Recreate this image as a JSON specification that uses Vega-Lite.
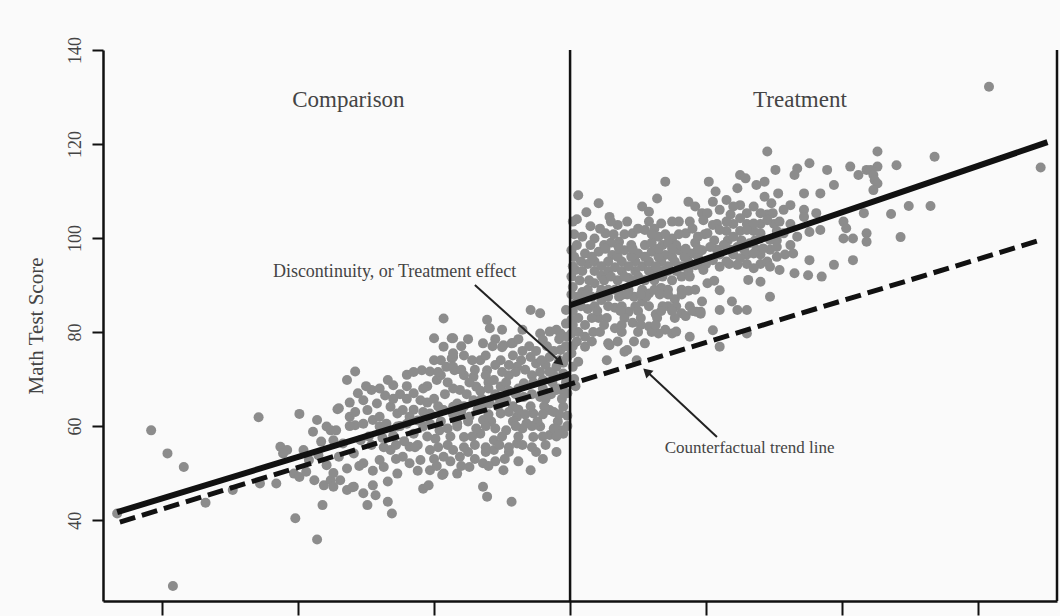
{
  "$schema": "https://vega.github.io/schema/vega-lite/v6.json",
  "width": 954,
  "height": 551,
  "autosize": "none",
  "padding": {"left": 103, "top": 50, "right": 3, "bottom": 15},
  "background": "#fafafa",
  "config": {
    "view": {"stroke": null},
    "font": "Liberation Serif"
  },
  "encoding": {
    "x": {
      "field": "x", "type": "quantitative",
      "scale": {"domain": [-3.434, 3.58], "nice": false, "zero": false},
      "axis": {"values": [-3, -2, -1, 0, 1, 2, 3], "labels": false, "title": null, "grid": false,
        "domainColor": "#111", "domainWidth": 2.5, "tickColor": "#111", "tickWidth": 2, "tickSize": 14}
    },
    "y": {
      "field": "y", "type": "quantitative",
      "scale": {"domain": [22.8, 140], "nice": false, "zero": false},
      "axis": {"values": [40, 60, 80, 100, 120, 140], "title": "Math Test Score", "grid": false,
        "domainColor": "#111", "domainWidth": 2.5, "tickColor": "#111", "tickWidth": 2, "tickSize": 11,
        "labelAngle": 270, "labelFont": "Liberation Serif", "labelFontSize": 18, "labelColor": "#444", "labelPadding": 8,
        "titleFont": "Liberation Serif", "titleFontSize": 21, "titleFontWeight": "normal", "titleColor": "#444", "titlePadding": 20}
    }
  },
  "layer": [
    {
      "data": {"values": [
        {"x": -3.08, "y": 59.1}, {"x": -2.96, "y": 54.2}, {"x": -2.84, "y": 51.3}, {"x": -3.33, "y": 41.4}, {"x": -2.92, "y": 26.0},
        {"x": -2.68, "y": 43.7}, {"x": -2.29, "y": 61.9}, {"x": -1.99, "y": 62.6}, {"x": -1.71, "y": 63.6}, {"x": -1.86, "y": 61.3},
        {"x": -1.89, "y": 58.8}, {"x": -1.79, "y": 59.9}, {"x": -1.76, "y": 59.1}, {"x": -2.13, "y": 55.6}, {"x": -2.08, "y": 54.9},
        {"x": -2.11, "y": 54.2}, {"x": -1.96, "y": 54.9}, {"x": -1.83, "y": 56.7}, {"x": -2.03, "y": 49.9}, {"x": -1.99, "y": 49.2},
        {"x": -1.94, "y": 50.3}, {"x": -1.88, "y": 48.5}, {"x": -1.81, "y": 47.4}, {"x": -1.76, "y": 48.5}, {"x": -1.74, "y": 47.1},
        {"x": -2.28, "y": 47.8}, {"x": -2.16, "y": 47.8}, {"x": -2.48, "y": 46.4}, {"x": -1.79, "y": 51.7}, {"x": -1.82, "y": 43.2},
        {"x": -2.02, "y": 40.4}, {"x": -1.86, "y": 35.9},
        {"x": -0.93, "y": 82.9}, {"x": -1.00, "y": 78.7}, {"x": -0.87, "y": 78.7}, {"x": -0.93, "y": 76.9}, {"x": -0.87, "y": 74.4},
        {"x": -0.91, "y": 72.6}, {"x": -0.85, "y": 71.9}, {"x": -1.00, "y": 74.0}, {"x": -1.09, "y": 71.9}, {"x": -1.03, "y": 71.6},
        {"x": -0.98, "y": 69.8}, {"x": -1.20, "y": 70.9}, {"x": -1.58, "y": 71.6}, {"x": -1.64, "y": 69.8}, {"x": -1.34, "y": 69.8},
        {"x": -1.30, "y": 68.7}, {"x": -1.46, "y": 67.7}, {"x": -1.56, "y": 67.0}, {"x": -1.52, "y": 65.5}, {"x": -1.15, "y": 67.0},
        {"x": -1.10, "y": 65.5}, {"x": -1.70, "y": 63.8}, {"x": -1.62, "y": 62.0}, {"x": -1.49, "y": 63.4}, {"x": -1.32, "y": 64.1},
        {"x": -1.27, "y": 62.7}, {"x": -1.23, "y": 63.4}, {"x": -1.03, "y": 62.7}, {"x": -0.93, "y": 63.4}, {"x": -0.86, "y": 64.1},
        {"x": -1.72, "y": 59.1}, {"x": -1.74, "y": 57.0}, {"x": -1.67, "y": 56.3}, {"x": -1.54, "y": 57.0}, {"x": -1.59, "y": 54.2},
        {"x": -1.52, "y": 52.1}, {"x": -1.40, "y": 52.8}, {"x": -1.32, "y": 54.9}, {"x": -1.23, "y": 53.5}, {"x": -1.18, "y": 55.6},
        {"x": -1.10, "y": 52.8}, {"x": -1.03, "y": 54.9}, {"x": -0.93, "y": 53.5}, {"x": -0.86, "y": 54.9}, {"x": -1.37, "y": 51.3},
        {"x": -1.27, "y": 49.9}, {"x": -1.18, "y": 52.1}, {"x": -1.03, "y": 50.6}, {"x": -0.93, "y": 49.9}, {"x": -0.83, "y": 49.9},
        {"x": -1.59, "y": 47.1}, {"x": -1.52, "y": 45.7}, {"x": -1.45, "y": 47.4}, {"x": -1.49, "y": 43.2}, {"x": -1.43, "y": 45.3},
        {"x": -1.34, "y": 48.2}, {"x": -1.08, "y": 46.7}, {"x": -1.04, "y": 47.4}, {"x": -1.34, "y": 43.9}, {"x": -1.31, "y": 41.4},
        {"x": -0.94, "y": 49.6}, {"x": -1.45, "y": 61.3}, {"x": -1.40, "y": 59.9}, {"x": -1.27, "y": 59.9}, {"x": -1.15, "y": 58.4},
        {"x": -1.08, "y": 59.9}, {"x": -0.96, "y": 59.1}, {"x": -0.83, "y": 59.9},
        {"x": -0.29, "y": 84.7}, {"x": -0.22, "y": 84.0}, {"x": -0.61, "y": 82.6}, {"x": -0.59, "y": 80.8}, {"x": -0.86, "y": 78.7},
        {"x": -0.64, "y": 77.6}, {"x": -0.49, "y": 77.2}, {"x": -0.43, "y": 77.6}, {"x": -0.22, "y": 79.7}, {"x": -0.15, "y": 80.1},
        {"x": -0.07, "y": 79.7}, {"x": -0.20, "y": 78.3}, {"x": -0.03, "y": 84.7}, {"x": -0.03, "y": 81.8}, {"x": -0.02, "y": 79.0},
        {"x": -0.86, "y": 74.7}, {"x": -0.86, "y": 72.6}, {"x": -0.66, "y": 74.0}, {"x": -0.51, "y": 74.0}, {"x": -0.61, "y": 71.9},
        {"x": -0.71, "y": 70.5}, {"x": -0.56, "y": 69.8}, {"x": -0.39, "y": 72.6}, {"x": -0.29, "y": 74.7}, {"x": -0.25, "y": 73.3},
        {"x": -0.15, "y": 74.7}, {"x": -0.07, "y": 76.2}, {"x": -0.02, "y": 74.7}, {"x": -0.10, "y": 72.6}, {"x": -0.81, "y": 67.7},
        {"x": -0.69, "y": 68.4}, {"x": -0.51, "y": 68.4}, {"x": -0.34, "y": 69.1}, {"x": -0.20, "y": 69.8}, {"x": -0.05, "y": 71.2},
        {"x": -0.83, "y": 60.6}, {"x": -0.74, "y": 62.0}, {"x": -0.64, "y": 61.3}, {"x": -0.51, "y": 62.7}, {"x": -0.39, "y": 62.0},
        {"x": -0.27, "y": 62.7}, {"x": -0.15, "y": 63.4}, {"x": -0.05, "y": 64.1}, {"x": -0.83, "y": 64.8}, {"x": -0.71, "y": 65.5},
        {"x": -0.59, "y": 64.8}, {"x": -0.47, "y": 65.5}, {"x": -0.34, "y": 66.2}, {"x": -0.22, "y": 66.2}, {"x": -0.10, "y": 67.7},
        {"x": -0.02, "y": 67.0}, {"x": -0.78, "y": 57.7}, {"x": -0.66, "y": 58.4}, {"x": -0.56, "y": 57.0}, {"x": -0.47, "y": 59.1},
        {"x": -0.32, "y": 60.6}, {"x": -0.22, "y": 59.9}, {"x": -0.07, "y": 59.1}, {"x": -0.27, "y": 57.7}, {"x": -0.15, "y": 58.1},
        {"x": -0.05, "y": 58.4}, {"x": -0.81, "y": 53.5}, {"x": -0.74, "y": 51.3}, {"x": -0.64, "y": 52.1}, {"x": -0.56, "y": 54.9},
        {"x": -0.49, "y": 50.6}, {"x": -0.29, "y": 50.6}, {"x": -0.39, "y": 56.3}, {"x": -0.64, "y": 47.1}, {"x": -0.61, "y": 45.0},
        {"x": -0.43, "y": 43.9},
        {"x": -0.86, "y": 75.5}, {"x": -0.50, "y": 76.8}, {"x": -0.42, "y": 77.7}, {"x": -1.64, "y": 46.4}, {"x": -1.60, "y": 47.0},
        {"x": -1.74, "y": 50.0}, {"x": -1.69, "y": 48.5},
        {"x": -0.95, "y": 70.8}, {"x": -0.78, "y": 70.8}, {"x": -0.62, "y": 70.8}, {"x": -0.45, "y": 70.8}, {"x": -0.28, "y": 70.8},
        {"x": -0.12, "y": 70.8}, {"x": -0.95, "y": 61.0}, {"x": -0.75, "y": 61.0}, {"x": -0.58, "y": 61.0}, {"x": -0.42, "y": 61.0},
        {"x": -0.24, "y": 61.0}, {"x": -0.09, "y": 61.0}, {"x": -0.90, "y": 56.0}, {"x": -0.70, "y": 56.0}, {"x": -0.52, "y": 56.0},
        {"x": -0.35, "y": 56.0}, {"x": -0.18, "y": 56.0}, {"x": -1.15, "y": 63.5}, {"x": -0.68, "y": 63.5}, {"x": -0.38, "y": 63.5},
        {"x": -1.25, "y": 66.8}, {"x": -0.92, "y": 66.8}, {"x": -0.76, "y": 66.8}, {"x": -0.55, "y": 66.8}, {"x": -0.40, "y": 66.8},
        {"x": -0.28, "y": 66.8}, {"x": -0.14, "y": 66.8}, {"x": -0.55, "y": 73.0}, {"x": -0.45, "y": 73.0}, {"x": -0.18, "y": 73.0},
        {"x": -0.35, "y": 76.0}, {"x": -0.25, "y": 76.0}, {"x": -0.12, "y": 76.0}, {"x": -1.38, "y": 57.5}, {"x": -1.22, "y": 56.8},
        {"x": -1.12, "y": 61.2}, {"x": -1.30, "y": 58.0}, {"x": -0.99, "y": 57.3}, {"x": -1.58, "y": 60.2}, {"x": -1.42, "y": 64.8},
        {"x": -1.36, "y": 66.5}, {"x": -1.20, "y": 65.8}, {"x": -1.92, "y": 52.8}, {"x": -1.70, "y": 53.5}, {"x": -1.64, "y": 51.0},
        {"x": -1.85, "y": 53.8},
        {"x": -0.75, "y": 78.5}, {"x": -0.55, "y": 78.5}, {"x": -0.38, "y": 78.5}, {"x": -0.08, "y": 78.5},
        {"x": -0.78, "y": 75.0}, {"x": -0.62, "y": 75.0}, {"x": -0.42, "y": 75.0}, {"x": -0.05, "y": 73.5},
        {"x": -0.90, "y": 69.3}, {"x": -0.74, "y": 69.3}, {"x": -0.60, "y": 69.3}, {"x": -0.47, "y": 69.3}, {"x": -0.27, "y": 69.3},
        {"x": -0.13, "y": 69.3}, {"x": -0.03, "y": 69.3}, {"x": -0.97, "y": 64.2}, {"x": -0.78, "y": 64.2}, {"x": -0.64, "y": 64.2},
        {"x": -0.53, "y": 64.2}, {"x": -0.42, "y": 64.2}, {"x": -0.29, "y": 64.2}, {"x": -0.19, "y": 64.2}, {"x": -0.02, "y": 62.2},
        {"x": -0.90, "y": 59.5}, {"x": -0.69, "y": 59.5}, {"x": -0.55, "y": 59.5}, {"x": -0.35, "y": 59.5}, {"x": -0.12, "y": 59.5},
        {"x": -0.86, "y": 62.5}, {"x": -0.60, "y": 62.5}, {"x": -0.33, "y": 62.5}, {"x": -0.20, "y": 62.5}, {"x": -0.08, "y": 62.5},
        {"x": -0.66, "y": 67.5}, {"x": -0.45, "y": 67.5}, {"x": -0.05, "y": 67.5}, {"x": -0.80, "y": 72.0}, {"x": -0.70, "y": 72.0},
        {"x": -0.33, "y": 72.0}, {"x": -0.75, "y": 54.5}, {"x": -0.62, "y": 54.5}, {"x": -0.45, "y": 54.5}, {"x": -0.25, "y": 54.5},
        {"x": -0.10, "y": 54.5}, {"x": -0.88, "y": 52.5}, {"x": -0.55, "y": 52.5}, {"x": -0.38, "y": 52.5},
        {"x": -1.52, "y": 60.5}, {"x": -1.35, "y": 60.5}, {"x": -1.20, "y": 60.5}, {"x": -1.03, "y": 60.5}, {"x": -1.46, "y": 56.0},
        {"x": -1.28, "y": 56.0}, {"x": -1.12, "y": 56.0}, {"x": -1.62, "y": 65.0}, {"x": -1.05, "y": 65.0}, {"x": -1.40, "y": 62.0},
        {"x": -1.18, "y": 62.0}, {"x": -1.50, "y": 68.5}, {"x": -1.20, "y": 68.5}, {"x": -1.05, "y": 68.5}, {"x": -1.45, "y": 50.5},
        {"x": -1.12, "y": 50.5},
        {"x": -0.50, "y": 80.5}, {"x": -0.35, "y": 80.5}, {"x": -0.10, "y": 80.5},
        {"x": -0.80, "y": 77.0}, {"x": -0.57, "y": 77.0}, {"x": -0.30, "y": 77.0}, {"x": -0.17, "y": 77.0}, {"x": -0.03, "y": 77.0},
        {"x": -0.95, "y": 74.0}, {"x": -0.72, "y": 74.0}, {"x": -0.36, "y": 74.0}, {"x": -0.21, "y": 74.0}, {"x": -0.08, "y": 74.0},
        {"x": -1.15, "y": 71.5}, {"x": -0.97, "y": 71.5}, {"x": -0.50, "y": 71.5}, {"x": -0.40, "y": 71.5}, {"x": -0.22, "y": 71.5},
        {"x": -0.15, "y": 71.5}, {"x": -1.40, "y": 68.0}, {"x": -1.08, "y": 68.0}, {"x": -0.86, "y": 68.0}, {"x": -0.60, "y": 68.0},
        {"x": -0.38, "y": 68.0}, {"x": -0.20, "y": 68.0}, {"x": -0.09, "y": 68.0}, {"x": -1.30, "y": 65.8}, {"x": -1.00, "y": 65.8},
        {"x": -0.65, "y": 65.8}, {"x": -0.52, "y": 65.8}, {"x": -0.18, "y": 65.8}, {"x": -0.06, "y": 65.8}, {"x": -1.58, "y": 63.0},
        {"x": -1.08, "y": 63.0}, {"x": -0.80, "y": 63.0}, {"x": -0.45, "y": 63.0}, {"x": -0.12, "y": 63.0}, {"x": -1.62, "y": 60.0},
        {"x": -1.25, "y": 60.0}, {"x": -0.62, "y": 60.0}, {"x": -0.40, "y": 60.0}, {"x": -0.28, "y": 60.0}, {"x": -0.02, "y": 60.0},
        {"x": -1.48, "y": 57.8}, {"x": -1.05, "y": 57.8}, {"x": -0.88, "y": 57.8}, {"x": -0.72, "y": 57.8}, {"x": -0.50, "y": 57.8},
        {"x": -0.38, "y": 57.8}, {"x": -0.20, "y": 57.8}, {"x": -0.10, "y": 57.8}, {"x": -1.37, "y": 55.5}, {"x": -1.14, "y": 55.5},
        {"x": -0.97, "y": 55.5}, {"x": -0.78, "y": 55.5}, {"x": -0.62, "y": 55.5}, {"x": -0.45, "y": 55.5}, {"x": -0.28, "y": 55.5},
        {"x": -1.28, "y": 53.0}, {"x": -1.00, "y": 53.0}, {"x": -0.70, "y": 53.0}, {"x": -0.48, "y": 53.0}, {"x": -0.20, "y": 53.0},
        {"x": -1.55, "y": 51.5}, {"x": -0.98, "y": 51.5}, {"x": -0.80, "y": 51.5}, {"x": -0.60, "y": 51.5},
        {"x": 0.70, "y": 112.0}, {"x": 0.06, "y": 109.1}, {"x": 0.21, "y": 107.4}, {"x": 0.53, "y": 106.7}, {"x": 0.58, "y": 105.6},
        {"x": 0.64, "y": 108.4}, {"x": 0.29, "y": 104.5}, {"x": 0.42, "y": 103.5}, {"x": 0.87, "y": 107.7}, {"x": 0.92, "y": 106.7},
        {"x": 0.80, "y": 103.5}, {"x": 0.67, "y": 103.1}, {"x": 0.97, "y": 105.3},
        {"x": 0.09, "y": 100.3}, {"x": 0.18, "y": 99.9}, {"x": 0.26, "y": 101.0}, {"x": 0.36, "y": 99.2}, {"x": 0.46, "y": 101.0},
        {"x": 0.55, "y": 101.7}, {"x": 0.65, "y": 100.3}, {"x": 0.75, "y": 99.9}, {"x": 0.85, "y": 101.0}, {"x": 0.94, "y": 100.3},
        {"x": 0.01, "y": 97.4}, {"x": 0.11, "y": 96.7}, {"x": 0.21, "y": 97.1}, {"x": 0.31, "y": 96.4}, {"x": 0.40, "y": 97.4},
        {"x": 0.50, "y": 96.7}, {"x": 0.60, "y": 97.1}, {"x": 0.70, "y": 96.4}, {"x": 0.80, "y": 97.4}, {"x": 0.89, "y": 96.7},
        {"x": 0.97, "y": 97.4},
        {"x": 0.04, "y": 93.2}, {"x": 0.13, "y": 94.5}, {"x": 0.23, "y": 92.0}, {"x": 0.33, "y": 93.8}, {"x": 0.43, "y": 91.5},
        {"x": 0.53, "y": 94.0}, {"x": 0.63, "y": 92.5}, {"x": 0.72, "y": 93.0}, {"x": 0.82, "y": 91.8}, {"x": 0.92, "y": 94.2},
        {"x": 0.02, "y": 89.6}, {"x": 0.09, "y": 88.5}, {"x": 0.18, "y": 90.4}, {"x": 0.28, "y": 89.0}, {"x": 0.38, "y": 87.9},
        {"x": 0.48, "y": 90.8}, {"x": 0.58, "y": 88.2}, {"x": 0.67, "y": 89.4}, {"x": 0.77, "y": 87.0}, {"x": 0.87, "y": 88.8},
        {"x": 0.97, "y": 86.5},
        {"x": 0.04, "y": 86.1}, {"x": 0.13, "y": 84.9}, {"x": 0.23, "y": 86.8}, {"x": 0.33, "y": 85.2}, {"x": 0.43, "y": 84.3},
        {"x": 0.53, "y": 86.5}, {"x": 0.63, "y": 83.8}, {"x": 0.72, "y": 85.5}, {"x": 0.82, "y": 84.0},
        {"x": 0.01, "y": 82.6}, {"x": 0.11, "y": 81.5}, {"x": 0.21, "y": 83.0}, {"x": 0.33, "y": 80.8}, {"x": 0.46, "y": 82.0},
        {"x": 0.58, "y": 81.2}, {"x": 0.70, "y": 80.5}, {"x": 0.85, "y": 83.4}, {"x": 0.96, "y": 83.9},
        {"x": 0.01, "y": 79.7}, {"x": 0.11, "y": 79.0}, {"x": 0.28, "y": 77.6}, {"x": 0.40, "y": 75.8}, {"x": 0.55, "y": 77.6},
        {"x": 0.65, "y": 79.7}, {"x": 0.75, "y": 79.7}, {"x": 0.88, "y": 79.0}, {"x": 0.01, "y": 75.5}, {"x": 0.11, "y": 76.9},
        {"x": 0.27, "y": 74.0}, {"x": 0.02, "y": 72.6}, {"x": 0.06, "y": 73.7}, {"x": 0.93, "y": 84.3}, {"x": 0.78, "y": 80.1},
        {"x": 0.42, "y": 76.2}, {"x": 0.29, "y": 77.2}, {"x": 0.49, "y": 74.0},
        {"x": 0.05, "y": 98.5}, {"x": 0.15, "y": 98.5}, {"x": 0.25, "y": 98.5}, {"x": 0.35, "y": 98.5}, {"x": 0.45, "y": 98.5},
        {"x": 0.55, "y": 98.5}, {"x": 0.68, "y": 98.5}, {"x": 0.78, "y": 98.5}, {"x": 0.08, "y": 95.0}, {"x": 0.18, "y": 95.0},
        {"x": 0.28, "y": 95.0}, {"x": 0.38, "y": 95.0}, {"x": 0.48, "y": 95.0}, {"x": 0.58, "y": 95.0}, {"x": 0.67, "y": 95.0},
        {"x": 0.77, "y": 95.0}, {"x": 0.87, "y": 95.0}, {"x": 0.07, "y": 91.0}, {"x": 0.14, "y": 91.0}, {"x": 0.25, "y": 91.0},
        {"x": 0.35, "y": 91.0}, {"x": 0.45, "y": 91.0}, {"x": 0.55, "y": 91.0}, {"x": 0.62, "y": 91.0}, {"x": 0.75, "y": 91.0},
        {"x": 0.06, "y": 87.5}, {"x": 0.16, "y": 87.5}, {"x": 0.28, "y": 87.5}, {"x": 0.36, "y": 87.5}, {"x": 0.47, "y": 87.5},
        {"x": 0.56, "y": 87.5}, {"x": 0.03, "y": 70.0}, {"x": 0.02, "y": 77.0}, {"x": 0.04, "y": 68.5}, {"x": 0.15, "y": 102.5},
        {"x": 0.35, "y": 102.8}, {"x": 0.05, "y": 104.0}, {"x": 0.12, "y": 105.5},
        {"x": 0.22, "y": 102.0}, {"x": 0.50, "y": 102.0}, {"x": 0.62, "y": 102.0}, {"x": 0.90, "y": 102.0},
        {"x": 0.30, "y": 99.0}, {"x": 0.60, "y": 99.0}, {"x": 0.72, "y": 99.0}, {"x": 0.92, "y": 99.0},
        {"x": 0.03, "y": 96.0}, {"x": 0.16, "y": 96.0}, {"x": 0.35, "y": 96.0}, {"x": 0.45, "y": 96.0}, {"x": 0.55, "y": 96.0},
        {"x": 0.65, "y": 96.0}, {"x": 0.75, "y": 96.0}, {"x": 0.84, "y": 96.0}, {"x": 0.94, "y": 96.0},
        {"x": 0.09, "y": 93.0}, {"x": 0.18, "y": 93.0}, {"x": 0.28, "y": 93.0}, {"x": 0.38, "y": 93.0}, {"x": 0.48, "y": 93.0},
        {"x": 0.58, "y": 93.0}, {"x": 0.68, "y": 93.0}, {"x": 0.78, "y": 93.0}, {"x": 0.87, "y": 93.0},
        {"x": 0.13, "y": 89.0}, {"x": 0.23, "y": 89.0}, {"x": 0.33, "y": 89.0}, {"x": 0.43, "y": 89.0}, {"x": 0.53, "y": 89.0},
        {"x": 0.62, "y": 89.0}, {"x": 0.72, "y": 89.0}, {"x": 0.82, "y": 89.0}, {"x": 0.92, "y": 89.0},
        {"x": 0.08, "y": 85.5}, {"x": 0.18, "y": 85.5}, {"x": 0.28, "y": 85.5}, {"x": 0.38, "y": 85.5}, {"x": 0.48, "y": 85.5},
        {"x": 0.58, "y": 85.5}, {"x": 0.68, "y": 85.5}, {"x": 0.78, "y": 85.5}, {"x": 0.88, "y": 85.5},
        {"x": 0.06, "y": 83.0}, {"x": 0.16, "y": 83.0}, {"x": 0.27, "y": 83.0}, {"x": 0.40, "y": 83.0}, {"x": 0.52, "y": 83.0},
        {"x": 0.64, "y": 83.0}, {"x": 0.77, "y": 83.0}, {"x": 0.06, "y": 80.0}, {"x": 0.17, "y": 80.0}, {"x": 0.22, "y": 80.0},
        {"x": 0.38, "y": 80.0}, {"x": 0.50, "y": 80.0}, {"x": 0.60, "y": 80.0}, {"x": 0.05, "y": 78.0}, {"x": 0.16, "y": 78.0},
        {"x": 0.35, "y": 78.0}, {"x": 0.47, "y": 78.0},
        {"x": 0.02, "y": 103.5}, {"x": 0.30, "y": 103.5}, {"x": 0.58, "y": 103.5}, {"x": 0.75, "y": 103.5}, {"x": 0.88, "y": 103.5},
        {"x": 0.03, "y": 100.8}, {"x": 0.32, "y": 100.8}, {"x": 0.40, "y": 100.8}, {"x": 0.60, "y": 100.8}, {"x": 0.70, "y": 100.8},
        {"x": 0.80, "y": 100.8}, {"x": 0.99, "y": 100.8}, {"x": 0.26, "y": 97.7}, {"x": 0.36, "y": 97.7}, {"x": 0.46, "y": 97.7},
        {"x": 0.65, "y": 97.7}, {"x": 0.75, "y": 97.7}, {"x": 0.85, "y": 97.7}, {"x": 0.94, "y": 97.7}, {"x": 0.02, "y": 94.0},
        {"x": 0.23, "y": 94.0}, {"x": 0.43, "y": 94.0}, {"x": 0.63, "y": 94.0}, {"x": 0.72, "y": 94.0}, {"x": 0.82, "y": 94.0},
        {"x": 0.97, "y": 94.0}, {"x": 0.01, "y": 91.8}, {"x": 0.30, "y": 91.8}, {"x": 0.40, "y": 91.8}, {"x": 0.50, "y": 91.8},
        {"x": 0.68, "y": 91.8}, {"x": 0.88, "y": 91.8}, {"x": 0.01, "y": 88.0}, {"x": 0.12, "y": 88.0}, {"x": 0.22, "y": 88.0},
        {"x": 0.42, "y": 88.0}, {"x": 0.52, "y": 88.0}, {"x": 0.66, "y": 88.0}, {"x": 0.72, "y": 88.0}, {"x": 0.82, "y": 88.0},
        {"x": 0.02, "y": 84.5}, {"x": 0.20, "y": 84.5}, {"x": 0.37, "y": 84.5}, {"x": 0.50, "y": 84.5}, {"x": 0.67, "y": 84.5},
        {"x": 0.75, "y": 84.5}, {"x": 0.90, "y": 84.5}, {"x": 0.02, "y": 81.5}, {"x": 0.25, "y": 81.5}, {"x": 0.38, "y": 81.5},
        {"x": 0.52, "y": 81.5}, {"x": 0.63, "y": 81.5},
        {"x": 1.15, "y": 101.5}, {"x": 1.25, "y": 101.5}, {"x": 1.35, "y": 101.5}, {"x": 1.52, "y": 101.5}, {"x": 1.08, "y": 97.5},
        {"x": 1.18, "y": 97.5}, {"x": 1.28, "y": 97.5}, {"x": 1.37, "y": 97.5}, {"x": 1.47, "y": 97.5}, {"x": 1.00, "y": 94.5},
        {"x": 1.17, "y": 94.5}, {"x": 1.30, "y": 94.5}, {"x": 1.40, "y": 94.5}, {"x": 1.18, "y": 105.0}, {"x": 1.45, "y": 105.0},
        {"x": 1.06, "y": 99.5}, {"x": 1.16, "y": 99.5}, {"x": 1.26, "y": 99.5}, {"x": 1.36, "y": 99.5}, {"x": 1.52, "y": 99.5},
        {"x": 1.10, "y": 96.5}, {"x": 1.20, "y": 96.5}, {"x": 1.30, "y": 96.5}, {"x": 1.40, "y": 96.5}, {"x": 1.58, "y": 96.5},
        {"x": 1.08, "y": 103.0}, {"x": 1.20, "y": 103.0}, {"x": 1.30, "y": 103.0}, {"x": 1.40, "y": 103.0}, {"x": 1.50, "y": 103.0},
        {"x": 1.62, "y": 103.0}, {"x": 1.25, "y": 107.0}, {"x": 1.62, "y": 107.0},
        {"x": 1.45, "y": 118.4}, {"x": 1.76, "y": 115.9}, {"x": 1.67, "y": 114.8}, {"x": 1.65, "y": 113.4}, {"x": 1.51, "y": 114.5},
        {"x": 1.89, "y": 114.5}, {"x": 2.06, "y": 115.2}, {"x": 2.18, "y": 114.5}, {"x": 2.12, "y": 113.4}, {"x": 1.25, "y": 113.4},
        {"x": 1.29, "y": 112.7}, {"x": 1.02, "y": 112.0}, {"x": 1.07, "y": 109.9}, {"x": 1.23, "y": 110.6}, {"x": 1.37, "y": 111.3},
        {"x": 1.43, "y": 112.0}, {"x": 1.53, "y": 109.5}, {"x": 1.43, "y": 108.8}, {"x": 1.48, "y": 107.4}, {"x": 1.72, "y": 109.5},
        {"x": 1.84, "y": 109.5}, {"x": 1.94, "y": 111.3}, {"x": 1.05, "y": 107.7}, {"x": 1.15, "y": 108.1}, {"x": 1.20, "y": 106.7},
        {"x": 1.10, "y": 106.0}, {"x": 1.01, "y": 105.3}, {"x": 1.35, "y": 106.7}, {"x": 1.30, "y": 105.3}, {"x": 1.40, "y": 105.3},
        {"x": 1.49, "y": 105.3}, {"x": 1.57, "y": 106.0}, {"x": 1.72, "y": 106.0}, {"x": 1.81, "y": 105.3}, {"x": 1.72, "y": 104.5},
        {"x": 2.01, "y": 103.5}, {"x": 2.16, "y": 105.3}, {"x": 2.03, "y": 102.1}, {"x": 2.08, "y": 99.9}, {"x": 2.18, "y": 101.0},
        {"x": 2.18, "y": 99.2}, {"x": 2.01, "y": 99.9}, {"x": 0.98, "y": 103.8}, {"x": 1.05, "y": 102.8}, {"x": 1.15, "y": 103.5},
        {"x": 1.25, "y": 104.2}, {"x": 1.35, "y": 103.1}, {"x": 1.45, "y": 103.8}, {"x": 1.54, "y": 103.5},
        {"x": 1.01, "y": 101.0}, {"x": 1.10, "y": 101.7}, {"x": 1.20, "y": 100.3}, {"x": 1.30, "y": 101.7}, {"x": 1.40, "y": 101.0},
        {"x": 1.47, "y": 99.6}, {"x": 1.57, "y": 101.0}, {"x": 1.67, "y": 100.3}, {"x": 1.76, "y": 101.3}, {"x": 1.84, "y": 101.7},
        {"x": 1.03, "y": 98.1}, {"x": 1.13, "y": 98.5}, {"x": 1.23, "y": 98.1}, {"x": 1.32, "y": 98.9}, {"x": 1.42, "y": 97.8},
        {"x": 1.52, "y": 98.1}, {"x": 1.62, "y": 98.5}, {"x": 1.05, "y": 95.3}, {"x": 1.15, "y": 95.0}, {"x": 1.25, "y": 95.7},
        {"x": 1.35, "y": 96.7}, {"x": 1.45, "y": 95.0}, {"x": 1.52, "y": 96.0}, {"x": 1.64, "y": 96.7}, {"x": 1.76, "y": 95.3},
        {"x": 0.98, "y": 93.2}, {"x": 1.10, "y": 93.9}, {"x": 1.23, "y": 94.3}, {"x": 1.35, "y": 93.6}, {"x": 1.47, "y": 93.9},
        {"x": 1.54, "y": 93.2}, {"x": 1.65, "y": 92.5}, {"x": 1.75, "y": 92.1}, {"x": 1.85, "y": 91.8}, {"x": 1.94, "y": 94.3},
        {"x": 2.08, "y": 95.3}, {"x": 1.31, "y": 91.1}, {"x": 1.40, "y": 90.7}, {"x": 1.01, "y": 90.4}, {"x": 1.06, "y": 90.9},
        {"x": 1.10, "y": 88.9}, {"x": 1.47, "y": 87.5}, {"x": 1.19, "y": 86.5}, {"x": 1.23, "y": 84.7}, {"x": 1.30, "y": 84.7},
        {"x": 1.10, "y": 84.7}, {"x": 0.96, "y": 84.3}, {"x": 1.05, "y": 80.4}, {"x": 1.10, "y": 76.9}, {"x": 1.30, "y": 79.7},
        {"x": 3.08, "y": 132.2}, {"x": 3.46, "y": 115.0}, {"x": 2.68, "y": 117.3}, {"x": 2.40, "y": 115.5}, {"x": 2.26, "y": 118.4},
        {"x": 2.26, "y": 115.2}, {"x": 2.21, "y": 114.5}, {"x": 2.23, "y": 113.4}, {"x": 2.24, "y": 112.3}, {"x": 2.26, "y": 111.6},
        {"x": 2.23, "y": 110.2}, {"x": 2.36, "y": 105.1}, {"x": 2.49, "y": 106.8}, {"x": 2.65, "y": 106.8}, {"x": 2.43, "y": 100.2}
      ]},
      "mark": {"type": "circle", "size": 100, "color": "#8c8c8c", "opacity": 1}
    },
    {
      "data": {"values": [{"x": 0, "y": 22.8, "y2": 140}, {"x": 3.58, "y": 22.8, "y2": 140}]},
      "mark": {"type": "rule", "color": "#111", "strokeWidth": 2.5},
      "encoding": {"y2": {"field": "y2"}}
    },
    {
      "data": {"values": [
        {"x": -3.33, "y": 41.7, "x2": 0, "y2": 71.1},
        {"x": 0, "y": 85.7, "x2": 3.51, "y2": 120.4}
      ]},
      "mark": {"type": "rule", "color": "#111", "strokeWidth": 6, "strokeCap": "butt"},
      "encoding": {"x2": {"field": "x2"}, "y2": {"field": "y2"}}
    },
    {
      "data": {"values": [{"x": -3.31, "y": 39.6, "x2": 3.46, "y2": 99.6}]},
      "mark": {"type": "rule", "color": "#111", "strokeWidth": 5, "strokeDash": [16, 7], "strokeCap": "butt"},
      "encoding": {"x2": {"field": "x2"}, "y2": {"field": "y2"}}
    },
    {
      "data": {"values": [
        {"x": -0.70, "y": 90.0, "x2": -0.08, "y2": 73.9},
        {"x": 1.08, "y": 57.7, "x2": 0.58, "y2": 71.2}
      ]},
      "mark": {"type": "rule", "color": "#222", "strokeWidth": 2},
      "encoding": {"x2": {"field": "x2"}, "y2": {"field": "y2"}}
    },
    {
      "data": {"values": [{"x": -0.074, "y": 73.6}]},
      "mark": {"type": "point", "shape": "triangle-up", "filled": true, "color": "#222", "size": 110, "angle": 132, "opacity": 1}
    },
    {
      "data": {"values": [{"x": 0.5625, "y": 71.6}]},
      "mark": {"type": "point", "shape": "triangle-up", "filled": true, "color": "#222", "size": 110, "angle": 313, "opacity": 1}
    },
    {
      "data": {"values": [{"x": -1.63, "y": 129.4, "label": "Comparison"}, {"x": 1.69, "y": 129.4, "label": "Treatment"}]},
      "mark": {"type": "text", "font": "Liberation Serif", "fontSize": 23, "color": "#444", "align": "center", "baseline": "middle"},
      "encoding": {"text": {"field": "label"}}
    },
    {
      "data": {"values": [{"x": -1.29, "y": 92.8, "label": "Discontinuity, or Treatment effect"}]},
      "mark": {"type": "text", "font": "Liberation Serif", "fontSize": 18, "color": "#444", "align": "center", "baseline": "middle"},
      "encoding": {"text": {"field": "label"}}
    },
    {
      "data": {"values": [{"x": 1.32, "y": 55.3, "label": "Counterfactual trend line"}]},
      "mark": {"type": "text", "font": "Liberation Serif", "fontSize": 17, "color": "#444", "align": "center", "baseline": "middle"},
      "encoding": {"text": {"field": "label"}}
    }
  ]
}
